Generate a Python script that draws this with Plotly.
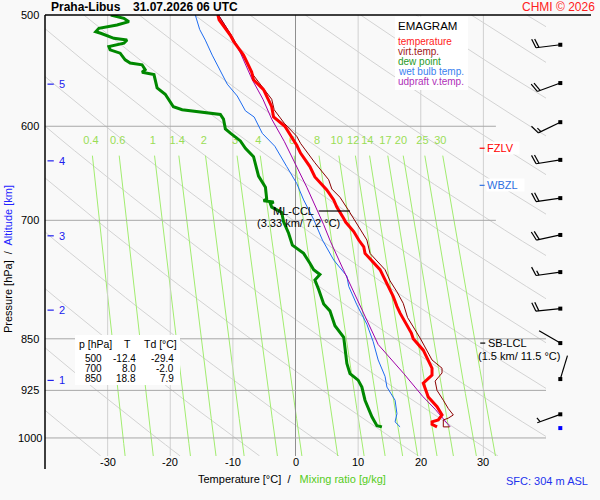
import math
import numpy as np
import plotly.graph_objects as go

# ---------------- sounding data ----------------
temp_p = [500, 504, 517, 522, 534, 549, 556, 565, 581, 591, 600, 619, 627, 641, 652,
          666, 677, 685, 698, 702, 713, 723, 731, 739, 759, 780, 793, 806, 815, 842,
          850, 866, 880, 892, 902, 914, 935, 950, 963, 971, 974, 978, 982]
temp_T = [-12.4, -12.2, -10.4, -9.9, -8.3, -7.0, -6.7, -5.1, -3.8, -3.5, -1.7, 0.2, 0.8, 2.3, 3.1,
          5.0, 6.1, 6.6, 7.7, 8.0, 9.3, 10.1, 10.9, 11.1, 13.5, 14.8, 15.6, 16.2, 16.7, 18.5,
          18.8, 20.4, 21.1, 21.8, 21.8, 20.4, 21.2, 22.6, 23.4, 22.8, 21.8, 21.8, 22.6]

virt_p = [500, 518, 552, 574, 584, 597, 610, 617, 637, 655, 665, 674, 689, 704, 723, 739, 759,
          773, 787, 802, 821, 849, 880, 892, 899, 911, 925, 940, 953, 963, 968, 971, 982, 982]
virt_T = [-12.3, -10.1, -6.7, -3.8, -3.4, -1.8, 0.2, 0.8, 3.1, 5.3, 5.8, 7.1, 8.5, 9.8, 11.4, 11.9, 14.3,
          15.1, 16.2, 17.2, 17.9, 19.9, 21.8, 23.4, 23.4, 22.3, 22.6, 23.6, 24.4, 25.2, 24.4, 23.6, 23.6, 24.6]

dew_p = [500, 502.7, 505.5, 508.3, 511, 513.9, 515.2, 519.5, 520.9, 523.7,
         526.6, 529.4, 532.3, 538.1, 541, 542.5, 546.9, 549.2, 551.3, 563.4,
         569.3, 581.1, 584, 588.5, 593, 602.6, 606.8, 614.6, 622, 630.7,
         651, 663, 676, 678, 679.3, 681.5, 685, 691, 701.6, 715,
         729, 739, 751, 759, 765, 772, 784, 803, 812, 832,
         848, 866, 885, 900, 909.6, 920, 940, 966, 980, 982]
dew_T = [-29.5, -27.4, -26.6, -28.5, -31.4, -31.9, -31.1, -29.0, -26.9, -27.4,
         -29.8, -29.6, -28.0, -27.2, -26.4, -24.5, -24.0, -24.5, -22.6, -22.1,
         -20.8, -19.5, -18.1, -12.0, -11.5, -11.2, -10.4, -8.8, -8.0, -6.7,
         -5.9, -4.8, -4.6, -5.1, -3.5, -4.0, -3.8, -2.2, -1.9, -1.1,
         -0.5, 1.3, 2.3, 2.9, 3.9, 3.1, 3.7, 4.5, 5.5, 6.3,
         7.7, 7.9, 8.2, 8.7, 10.0, 10.6, 11.1, 12.2, 13.0, 13.8]

wet_p = [500, 512, 521, 534, 560, 571, 585, 591, 607, 620, 641, 659, 677, 699,
         723, 747, 767, 780, 804, 830, 854, 880, 904, 920, 940, 961, 974, 982]
wet_T = [-16.0, -15.3, -14.4, -13.3, -10.9, -9.3, -8.0, -6.6, -5.3, -3.3, -1.4, 0.2, 1.3, 2.9,
         4.3, 6.1, 8.2, 8.5, 9.8, 11.4, 12.4, 13.2, 14.3, 14.6, 15.9, 16.2, 15.9, 16.7]

updraft_p = [500, 515, 532, 556, 574, 593, 615, 631, 663, 705, 725, 760, 800, 830, 858, 900, 934, 954, 982]
updraft_T = [-12.3, -10.5, -8.8, -6.9, -5.2, -3.8, -1.8, -0.6, 1.8, 4.5, 5.6, 7.7, 10.0, 11.7, 13.2,
             17.3, 20.3, 22.3, 24.7]

# wind: pressure [hPa], direction [deg], speed [kt]
wind_p = [525, 559, 596, 634, 675, 717, 762, 809, 856, 908, 962]
wind_dir = [263, 250, 244, 261, 262, 258, 262, 264, 300, 17, 250]
wind_spd = [20, 20, 15, 20, 20, 20, 15, 20, 3, 3, 5]
sfc_p = 982

# altitude marks
alt_km = [1, 2, 3, 4, 5]
alt_p = [910, 811, 718, 635, 560]

# table
tab_p = ["500", "700", "850"]
tab_T = ["-12.4", "8.0", "18.8"]
tab_Td = ["-29.4", "-2.0", "7.9"]

# mixing ratio lines (g/kg)
mix_w = [0.4, 0.6, 1, 1.4, 2, 3, 4, 6, 8, 10, 12, 14, 17, 20, 25, 30]
mix_labels = ["0.4", "0.6", "1", "1.4", "2", "3", "4", "6", "8", "10", "12", "14", "17", "20", "25", "30"]

isotherms = [-30, -20, -10, 0, 10, 20, 30]
isobars = [600, 700, 850, 925, 1000]
isobar_end = [32, 32, 40, 40, 40]
press_ticks = [500, 600, 700, 850, 925, 1000]

# levels
fzlv_p, wbzl_p = 622, 661
ccl_p, ccl_text = 689.4, "(3.33 km/ 7.2 °C)"
lcl_p, lcl_text = 856, "(1.5 km/ 11.5 °C)"

# ---------------- layout geometry ----------------
FONT = "Liberation Sans, Arial, sans-serif"
W, H = 600, 500
ML, MR, MT, MB = 45, 0, 15, 44
P_TOP, P_BOT = 500.0, 1030.0
T_MIN, T_MAX = -40.0, 40.0
MAIN_RIGHT_PX = 546
BARB_LEFT_PX = 520
PLOT_W = W - ML - MR
PLOT_H = H - MT - MB
PX_PER_LN = PLOT_H / math.log(P_BOT / P_TOP)


def px_x(px):
    return (px - ML) / PLOT_W


def px_y(py):
    return (H - MB - py) / PLOT_H


def ly(p):
    return math.log10(p)


def td_from_w(w, p):
    e = w * p / (622.0 + w)
    a = math.log(e / 6.112)
    return 243.5 * a / (17.67 - a)


fig = go.Figure()


def add_line(x, y, color, width, xaxis="x"):
    fig.add_trace(go.Scatter(x=x, y=y, mode="lines", line=dict(color=color, width=width),
                             hoverinfo="skip", showlegend=False, xaxis=xaxis, yaxis="y"))


# gray diagonal reference lines
pp = list(np.geomspace(P_TOP, P_BOT, 40))
dx, dy = [], []
for th in [251 + 12.5 * n for n in range(-2, 16)]:
    for p in pp:
        dx.append(th * math.sqrt(p / 1000.0) - 273.15)
        dy.append(p)
    dx.append(None)
    dy.append(None)
add_line(dx, dy, "#d3d3d3", 1)

# mixing ratio lines
mp = list(np.geomspace(629.6, P_BOT, 25))
mx, my = [], []
for w in mix_w:
    for p in mp:
        mx.append(td_from_w(w, p))
        my.append(p)
    mx.append(None)
    my.append(None)
add_line(mx, my, "#a2ec70", 1)

# isotherms
for t in isotherms:
    add_line([t, t], [P_TOP, P_BOT], "#8f8f8f" if t == 0 else "#d0d0d0", 1)

# isobars
for p, te in zip(isobars, isobar_end):
    add_line([T_MIN, te], [p, p], "#a8a8a8", 1)

# mixing ratio labels
fig.add_trace(go.Scatter(x=[td_from_w(w, 615) for w in mix_w], y=[615] * len(mix_w), mode="text",
                         text=mix_labels, textposition="middle center",
                         textfont=dict(family=FONT, size=11, color="#99dd55"),
                         hoverinfo="skip", showlegend=False))

# altitude ticks
ax_, ay_ = [], []
for p in alt_p:
    ax_ += [-39.6, -38.6, None]
    ay_ += [p, p, None]
add_line(ax_, ay_, "#2020ee", 1.2)

# level ticks
add_line([29.4, 30.2], [fzlv_p, fzlv_p], "#ff0000", 1.2)
add_line([29.4, 30.2], [wbzl_p, wbzl_p], "#3070e0", 1.2)
add_line([29.5, 30.3], [lcl_p, lcl_p], "#000000", 1.2)

# profiles
add_line(wet_T, wet_p, "#1e6cf0", 1)
add_line(updraft_T, updraft_p, "#a000a8", 1)
add_line(dew_T, dew_p, "#008800", 3)
add_line(virt_T, virt_p, "#8b0000", 1)
add_line(temp_T, temp_p, "#ff0000", 3)
add_line([3.7, 8.7], [ccl_p, ccl_p], "#000000", 1.2)

# wind barbs on a side axis measured in pixels
X0 = 560.3 - BARB_LEFT_PX
bx, by = [], []


def bpt(p, e, n):
    return X0 + e, p * math.exp(-n / PX_PER_LN)


for p, d, s in zip(wind_p, wind_dir, wind_spd):
    ue, un = math.sin(math.radians(d)), math.cos(math.radians(d))
    L = 24.5
    for e, n in [(0, 0), (L * ue, L * un)]:
        x, y = bpt(p, e, n)
        bx.append(x)
        by.append(y)
    bx.append(None)
    by.append(None)
    be = 0.94 * un + 0.34 * ue
    bn = -0.94 * ue + 0.34 * un
    full, half = int(s // 10), 1 if (s % 10) >= 5 else 0
    pos = L if full > 0 else L - 3
    items = [9.5] * full + [5.0] * half
    for blen in items:
        se, sn = pos * ue, pos * un
        for e, n in [(se, sn), (se + blen * be, sn + blen * bn)]:
            x, y = bpt(p, e, n)
            bx.append(x)
            by.append(y)
        bx.append(None)
        by.append(None)
        pos -= 3
fig.add_trace(go.Scatter(x=bx, y=by, mode="lines", line=dict(color="black", width=1.2),
                         hoverinfo="skip", showlegend=False, xaxis="x2", yaxis="y"))
fig.add_trace(go.Scatter(x=[X0] * len(wind_p), y=wind_p, mode="markers",
                         marker=dict(symbol="square", size=4, color="black"),
                         hoverinfo="skip", showlegend=False, xaxis="x2", yaxis="y"))
fig.add_trace(go.Scatter(x=[X0], y=[sfc_p * math.exp(1.2 / PX_PER_LN)], mode="markers",
                         marker=dict(symbol="square", size=4, color="#0000ff"),
                         hoverinfo="skip", showlegend=False, xaxis="x2", yaxis="y"))

# ---------------- annotations ----------------
ann = []


def A(text, x, y, xref="paper", yref="paper", xanchor="center", yanchor="middle",
      size=11, color="black", **kw):
    d = dict(text=text, x=x, y=y, xref=xref, yref=yref, xanchor=xanchor, yanchor=yanchor,
             showarrow=False, font=dict(family=FONT, size=size, color=color), borderpad=0)
    d.update(kw)
    ann.append(d)


A("<b>Praha-Libus</b>", px_x(50), px_y(7), xanchor="left", size=12)
A("<b>31.07.2026 06 UTC</b>", px_x(131.5), px_y(7), xanchor="left", size=12)
A("CHMI © 2026", px_x(596), px_y(7), xanchor="right", size=12, color="#ff2020")

for p in press_ticks:
    A(str(p), px_x(29.5), ly(p), yref="y", size=11)
for t in isotherms:
    A(str(t), t, px_y(462), xref="x", size=11)

A("Temperature [°C]\u00a0 /\u00a0\u00a0\u00a0<span style='color:#55cc22'>Mixing ratio [g/kg]</span>",
  px_x(197), px_y(479), xanchor="left", size=11)
A("Pressure [hPa]\u00a0 /\u00a0 <span style='color:#2424ff'>Altitude [km]</span>",
  px_x(8), px_y(259), size=11, textangle=-90)
A("SFC: 304 m ASL", px_x(589), px_y(481), xanchor="right", size=11, color="#2233ee")

for k, p in zip(alt_km, alt_p):
    A(str(k), -38.0, ly(p), xref="x", yref="y", xanchor="left", size=11, color="#2020ee")

# legend box
A("EMAGRAM", px_x(397), px_y(26.5), xanchor="left", size=11.5)
leg = [("temperature", "#ff1a1a"), ("virt.temp.", "#a01818"), ("dew point", "#1f9a1f"),
       ("wet bulb temp.", "#3a7ff0"), ("udpraft v.temp.", "#b030b8")]
for i, (t, c) in enumerate(leg):
    A(t, px_x(397), px_y(41.7 + 10 * i), xanchor="left", size=10, color=c)

# table
A("p [hPa]", px_x(78), px_y(344), xanchor="left", size=10.5)
A("T", px_x(127), px_y(344), size=10.5)
A("Td [°C]", px_x(143), px_y(344), xanchor="left", size=10.5)
for i in range(3):
    yy = px_y(358.3 + 10 * i)
    A(tab_p[i], px_x(102.5), yy, xanchor="right", size=10)
    A(tab_T[i], px_x(137), yy, xanchor="right", size=10)
    A(tab_Td[i], px_x(174.5), yy, xanchor="right", size=10)

# level labels
A("FZLV\u00a0\u00a0", 30.4, ly(fzlv_p), xref="x", yref="y", xanchor="left", size=11,
  color="#ff0000", bgcolor="#ffffff")
A("WBZL\u00a0\u00a0", 30.4, ly(wbzl_p), xref="x", yref="y", xanchor="left", size=11,
  color="#3070e0", bgcolor="#ffffff")
A("SB-LCL", 30.5, ly(lcl_p), xref="x", yref="y", xanchor="left", size=11)
A(lcl_text, 29.05, ly(873.6), xref="x", yref="y", xanchor="left", size=11)
A("ML-CCL", -0.3, ly(ccl_p), xref="x", yref="y", size=11)
A(ccl_text, 0.4, ly(703.4), xref="x", yref="y", size=11)

shapes = [
    dict(type="rect", xref="paper", yref="paper", x0=px_x(395), x1=px_x(468), y0=px_y(90), y1=px_y(16.5),
         fillcolor="#ffffff", line=dict(width=0), layer="above"),
    dict(type="rect", xref="paper", yref="paper", x0=px_x(75), x1=px_x(180), y0=px_y(385), y1=px_y(335),
         fillcolor="#ffffff", line=dict(width=0), layer="above"),
    dict(type="line", xref="paper", yref="paper", x0=0, x1=px_x(591), y0=1, y1=1,
         line=dict(color="black", width=1.5)),
    dict(type="line", xref="paper", yref="paper", x0=0, x1=0, y0=1, y1=px_y(469),
         line=dict(color="black", width=1.5)),
]

fig.update_layout(
    width=W, height=H,
    margin=dict(l=ML, r=MR, t=MT, b=MB, pad=0),
    paper_bgcolor="#f9f9f9", plot_bgcolor="rgba(0,0,0,0)",
    font=dict(family=FONT, size=11, color="black"),
    showlegend=False,
    xaxis=dict(domain=[0, px_x(MAIN_RIGHT_PX)], range=[T_MIN, T_MAX], showgrid=False, zeroline=False,
               showticklabels=False, ticks="", showline=False, fixedrange=True),
    xaxis2=dict(domain=[px_x(BARB_LEFT_PX), 1], range=[0, W - MR - BARB_LEFT_PX], anchor="y",
                visible=False, fixedrange=True),
    yaxis=dict(type="log", range=[math.log10(P_BOT), math.log10(P_TOP)], showgrid=False, zeroline=False,
               showticklabels=False, ticks="", showline=False, fixedrange=True),
    annotations=ann,
    shapes=shapes,
)

fig.write_html("out.html", config={"displayModeBar": False},
               post_script="document.body.style.margin='0';document.body.style.background='#f9f9f9';")
